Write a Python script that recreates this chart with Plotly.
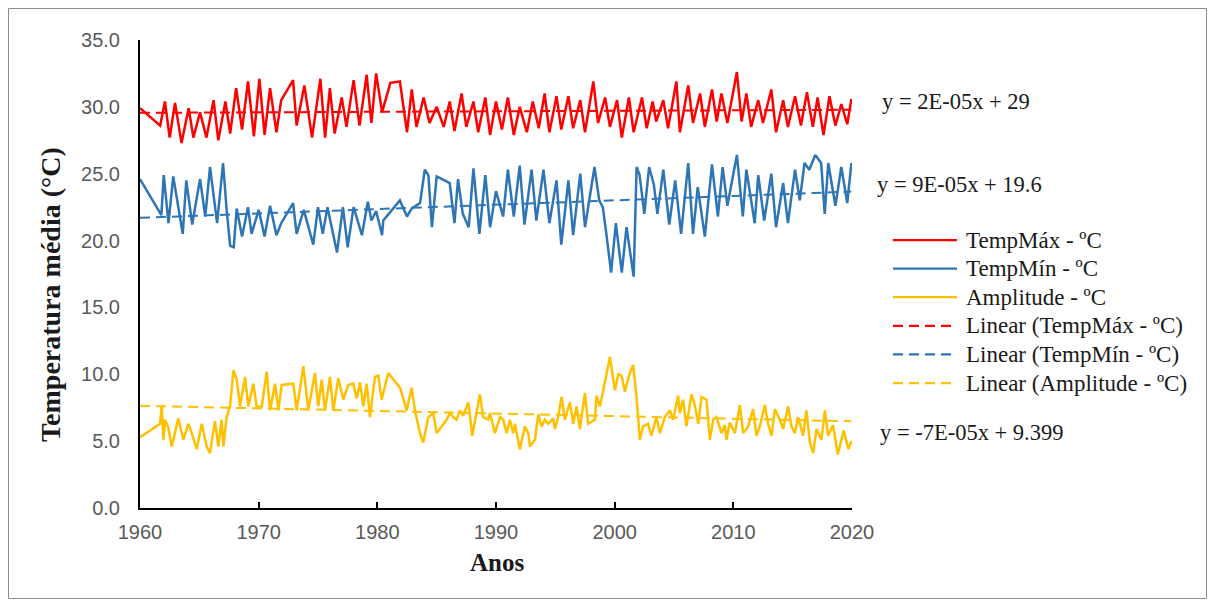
import numpy as np
import plotly.graph_objects as go

# ---------------- data (decimal years, °C) ----------------
tmax_x = [1960.0, 1961.7, 1962.1, 1962.5, 1962.95, 1963.5, 1964.1, 1964.5, 1965.06, 1965.6,
          1966.2, 1966.6, 1967.2, 1967.6, 1968.1, 1968.6, 1969.1, 1969.6, 1970.06, 1970.5,
          1970.96, 1971.5, 1971.9, 1972.9, 1973.2, 1973.85, 1974.5, 1975.2, 1975.6, 1976.0,
          1976.4, 1977.0, 1977.4, 1978.0, 1978.5, 1979.1, 1979.5, 1979.9, 1980.4, 1981.1,
          1981.9, 1982.5, 1982.9, 1983.3, 1983.9, 1984.4, 1985.0, 1985.6, 1986.1, 1986.5,
          1987.1, 1987.5, 1988.1, 1988.5, 1989.1, 1989.5, 1990.0, 1990.5, 1991.0, 1991.5,
          1992.0, 1992.6, 1993.1, 1993.6, 1994.1, 1994.5, 1995.1, 1995.5, 1996.1, 1996.5,
          1997.1, 1997.5, 1998.2, 1998.6, 1999.2, 1999.6, 2000.2, 2000.6, 2001.2, 2001.6,
          2002.3, 2002.7, 2003.2, 2003.5, 2004.1, 2004.5, 2005.2, 2005.5, 2006.2, 2006.6,
          2007.2, 2007.6, 2008.2, 2008.6, 2009.0, 2009.5, 2010.3, 2010.7, 2011.1, 2011.5,
          2012.1, 2012.5, 2013.2, 2013.6, 2014.2, 2014.6, 2015.2, 2015.7, 2016.2, 2016.7,
          2017.1, 2017.6, 2018.1, 2018.6, 2019.1, 2019.6, 2019.95]
tmax_y = [29.9, 28.6, 30.4, 27.7, 30.3, 27.3, 29.9, 27.7, 29.6, 27.7,
          30.5, 27.5, 30.4, 28.0, 31.4, 28.3, 31.9, 27.8, 32.1, 27.9,
          31.4, 28.1, 30.5, 32.0, 28.6, 31.6, 27.7, 32.1, 27.7, 31.4,
          28.0, 30.7, 28.5, 32.0, 28.6, 32.4, 28.8, 32.5, 29.6, 31.8,
          31.9, 28.1, 31.3, 28.5, 30.7, 28.8, 30.0, 28.5, 30.4, 28.2,
          31.0, 28.5, 30.4, 28.1, 30.7, 27.9, 30.4, 28.3, 30.7, 27.9,
          30.0, 28.1, 30.4, 28.4, 31.0, 28.1, 30.8, 28.3, 30.8, 28.4,
          30.5, 28.1, 31.9, 28.8, 30.7, 28.5, 30.5, 27.7, 30.7, 28.1,
          30.7, 28.4, 30.4, 28.9, 30.5, 28.4, 31.9, 28.1, 31.6, 28.8,
          31.0, 28.5, 31.3, 28.9, 31.0, 28.8, 32.6, 28.9, 31.0, 28.5,
          30.5, 28.8, 31.3, 28.1, 30.5, 28.5, 30.8, 28.6, 31.1, 28.5,
          30.7, 27.9, 30.8, 28.6, 30.2, 28.7, 30.6]

tmin_x = [1960.0, 1961.8, 1962.0, 1962.4, 1962.8, 1963.6, 1963.9, 1964.4, 1965.06, 1965.5,
          1965.9, 1966.5, 1967.0, 1967.3, 1967.6, 1967.9, 1968.15, 1968.6, 1969.1, 1969.4,
          1970.0, 1970.5, 1970.96, 1971.5, 1971.9, 1972.9, 1973.2, 1973.8, 1974.6, 1975.0,
          1975.4, 1975.8, 1976.6, 1977.1, 1977.5, 1978.0, 1978.7, 1979.2, 1979.5, 1979.9,
          1980.4, 1980.5, 1981.9, 1982.5, 1982.9, 1983.6, 1984.0, 1984.3, 1984.6, 1985.0,
          1986.1, 1986.5, 1986.8, 1987.2, 1987.7, 1988.1, 1988.6, 1989.1, 1989.5, 1990.0,
          1990.6, 1991.0, 1991.5, 1992.0, 1992.4, 1993.0, 1993.4, 1994.0, 1994.5, 1995.1,
          1995.5, 1996.1, 1996.5, 1997.1, 1997.5, 1998.3, 1998.7, 1999.0, 1999.3, 1999.7,
          2000.1, 2000.6, 2001.0, 2001.6, 2001.85, 2002.1, 2002.5, 2002.9, 2003.3, 2003.6,
          2004.1, 2004.6, 2005.1, 2005.6, 2006.2, 2006.6, 2007.0, 2007.6, 2008.2, 2008.7,
          2009.1, 2009.5, 2010.3, 2010.8, 2011.1, 2011.8, 2012.1, 2012.6, 2013.2, 2013.6,
          2014.2, 2014.6, 2015.2, 2015.6, 2016.0, 2016.4, 2016.9, 2017.4, 2017.7, 2018.0,
          2018.6, 2019.1, 2019.6, 2019.95]
tmin_y = [24.6, 21.9, 24.9, 21.3, 24.8, 20.5, 24.5, 21.2, 24.6, 21.8,
          25.5, 21.3, 25.8, 22.3, 19.6, 19.5, 22.4, 20.3, 22.5, 20.5,
          22.3, 20.3, 22.6, 20.4, 21.3, 22.8, 20.5, 22.3, 19.7, 22.5,
          20.5, 22.5, 19.1, 22.5, 19.5, 22.5, 20.4, 22.9, 21.5, 22.2,
          20.4, 21.5, 23.0, 21.8, 22.4, 22.8, 25.3, 24.9, 21.0, 24.8,
          24.3, 21.3, 24.6, 22.0, 21.0, 25.4, 20.5, 24.9, 21.0, 23.7,
          21.8, 25.3, 21.8, 25.6, 21.2, 25.3, 21.5, 25.3, 21.3, 24.5,
          19.7, 24.5, 20.4, 25.0, 21.0, 25.5, 23.0, 22.5, 20.5, 17.6,
          21.3, 17.6, 21.0, 17.3, 25.5, 24.9, 22.0, 25.5, 24.2, 22.0,
          25.3, 21.2, 24.5, 20.5, 25.8, 20.5, 24.0, 20.3, 25.7, 21.8,
          25.5, 22.6, 26.4, 21.8, 25.3, 21.3, 24.9, 21.5, 25.0, 21.0,
          24.3, 21.3, 25.3, 23.0, 25.8, 25.3, 26.4, 25.8, 22.0, 25.8,
          22.6, 25.5, 22.8, 25.8]

amp_x = [1960.0, 1961.69, 1961.83, 1961.97, 1962.11, 1962.39, 1962.67, 1963.23, 1963.65, 1964.08,
         1964.36, 1964.78, 1965.2, 1965.62, 1965.9, 1966.32, 1966.6, 1966.88, 1967.03, 1967.3,
         1967.59, 1967.87, 1968.15, 1968.43, 1968.85, 1969.13, 1969.55, 1969.83, 1970.26, 1970.68,
         1970.96, 1971.38, 1971.66, 1971.94, 1972.92, 1973.2, 1973.77, 1974.18, 1974.74, 1975.02,
         1975.31, 1975.59, 1976.01, 1976.29, 1976.71, 1977.13, 1977.55, 1977.97, 1978.26, 1978.54,
         1978.82, 1979.1, 1979.38, 1979.8, 1980.08, 1980.36, 1980.92, 1981.91, 1982.47, 1982.89,
         1983.17, 1983.59, 1983.87, 1984.3, 1984.72, 1985.0, 1985.42, 1985.84, 1986.12, 1986.4,
         1986.68, 1986.96, 1987.24, 1987.67, 1988.0, 1988.64, 1988.92, 1989.34, 1989.49, 1989.91,
         1990.33, 1990.61, 1990.89, 1991.17, 1991.45, 1991.59, 1992.01, 1992.43, 1992.72, 1992.86,
         1993.28, 1993.56, 1993.84, 1994.12, 1994.4, 1994.82, 1994.96, 1995.24, 1995.52, 1995.81,
         1996.23, 1996.51, 1996.79, 1997.07, 1997.49, 1997.77, 1998.33, 1998.47, 1998.76, 1999.04,
         1999.32, 1999.6, 2000.02, 2000.3, 2000.58, 2000.86, 2001.28, 2001.56, 2001.84, 2001.99,
         2002.13, 2002.4, 2002.82, 2003.1, 2003.52, 2003.81, 2004.23, 2004.65, 2004.93, 2005.35,
         2005.49, 2005.77, 2006.05, 2006.47, 2006.75, 2007.04, 2007.32, 2007.74, 2008.02, 2008.3,
         2008.58, 2009.0, 2009.28, 2009.42, 2009.7, 2010.13, 2010.55, 2010.83, 2011.25, 2011.67,
         2011.95, 2012.23, 2012.65, 2012.93, 2013.22, 2013.5, 2013.92, 2014.2, 2014.62, 2014.9,
         2015.18, 2015.46, 2015.88, 2016.16, 2016.45, 2016.73, 2017.01, 2017.43, 2017.71, 2017.99,
         2018.4, 2018.8, 2019.3, 2019.7, 2019.95]
amp_y = [5.3, 6.3, 7.7, 5.1, 6.6, 6.0, 4.6, 6.7, 5.1, 6.3,
         5.6, 4.4, 6.3, 4.6, 4.1, 6.5, 4.6, 6.6, 4.6, 6.8,
         7.6, 10.3, 9.6, 7.6, 9.8, 7.6, 9.3, 7.6, 7.6, 10.2,
         7.3, 9.3, 7.3, 9.2, 9.3, 7.3, 10.6, 7.3, 10.1, 7.6,
         9.6, 7.3, 9.8, 7.3, 9.7, 8.1, 9.2, 9.3, 8.2, 9.4,
         7.6, 9.3, 6.8, 9.8, 9.9, 8.1, 10.1, 9.0, 7.3, 9.0,
         7.3, 5.6, 4.9, 6.8, 7.1, 5.6, 6.1, 6.6, 7.1, 6.8,
         6.6, 7.3, 6.9, 7.9, 5.4, 8.5, 6.8, 6.6, 7.1, 5.6,
         6.8, 6.6, 5.6, 6.6, 5.6, 6.3, 4.4, 6.1, 5.6, 4.6,
         5.1, 7.0, 6.1, 6.6, 6.3, 6.7, 5.9, 6.8, 8.3, 6.6,
         7.9, 6.3, 7.6, 5.9, 8.6, 6.3, 6.6, 8.4, 7.6, 8.8,
         10.1, 11.3, 8.8, 10.0, 9.9, 8.7, 10.1, 10.7, 8.3, 6.6,
         5.1, 6.1, 6.3, 5.4, 6.8, 5.6, 6.8, 7.3, 6.6, 8.4,
         7.1, 8.1, 6.1, 8.5, 7.7, 6.3, 8.3, 8.1, 5.1, 6.6,
         6.8, 5.6, 6.2, 5.1, 6.4, 5.6, 7.7, 5.6, 6.1, 7.4,
         5.4, 6.1, 7.7, 6.3, 5.4, 7.4, 6.6, 5.9, 7.6, 6.1,
         5.6, 6.8, 5.4, 7.3, 4.9, 4.1, 5.9, 5.1, 7.3, 5.4,
         6.2, 4.0, 5.8, 4.4, 5.0]

year_ticks = [1960, 1970, 1980, 1990, 2000, 2010, 2020]
year_labels = ["1960", "1970", "1980", "1990", "2000", "2010", "2020"]

series_names = ["TempMáx - ºC", "TempMín - ºC", "Amplitude - ºC"]
trend_names = ["Linear (TempMáx - ºC)", "Linear (TempMín - ºC)", "Linear (Amplitude - ºC)"]
equations = ["y = 2E-05x + 29", "y = 9E-05x + 19.6", "y = -7E-05x + 9.399"]

colors = ["#FF0000", "#2E75B6", "#FFC000"]

# ---------------- geometry ----------------
OFF = 8                     # page body margin of the html page
W, H = 1199, 591            # figure size (fits in the 1215x607 window with the margin)
L, R, T, B = 140 - OFF, 852 - OFF, 40 - OFF, 508 - OFF   # plot area in figure px


def px_x(p):               # p: pixel x in the screenshot
    return ((p - OFF) - L) / (R - L)


def px_y(p):               # p: pixel y in the screenshot
    return (B - (p - OFF)) / (B - T)


fig = go.Figure()
data = [(tmax_x, tmax_y), (tmin_x, tmin_y), (amp_x, amp_y)]
for (xs, ys), name, col in zip(data, series_names, colors):
    fig.add_trace(go.Scatter(x=xs, y=ys, mode="lines", name=name, showlegend=False,
                             line=dict(color=col, width=2.5)))

for (xs, ys), name, col in zip(data, trend_names, colors):
    xa = np.array(xs)
    ya = np.array(ys)
    m, b = np.polyfit(xa, ya, 1)
    xe = np.array([xa.min(), xa.max()])
    fig.add_trace(go.Scatter(x=xe, y=m * xe + b, mode="lines", name=name, showlegend=False,
                             line=dict(color=col, width=2, dash="10px,6px")))

serif = "Liberation Serif, Times New Roman, serif"
sans = "Liberation Sans, Arial, sans-serif"

fig.update_layout(
    width=W, height=H,
    margin=dict(l=L, r=W - R, t=T, b=H - B),
    paper_bgcolor="white", plot_bgcolor="white",
    showlegend=False,
    xaxis=dict(range=[1960, 2020], tickmode="array", tickvals=year_ticks,
               ticktext=year_labels, showgrid=False, zeroline=False,
               showline=True, linecolor="black", linewidth=2,
               ticks="inside", ticklen=6, tickwidth=1.5, tickcolor="black",
               tickfont=dict(family=sans, size=20, color="#595959"),
               ticklabelstandoff=5),
    yaxis=dict(range=[0, 35], dtick=5, tickformat=".1f", showgrid=False,
               zeroline=False, showline=True, linecolor="black", linewidth=2,
               ticks="", tickfont=dict(family=sans, size=20, color="#595959"),
               ticklabelstandoff=14),
)

annotations = [
    dict(text="<b>Anos</b>", x=px_x(497), y=px_y(562), xref="paper", yref="paper",
         showarrow=False, xanchor="center", yanchor="middle",
         font=dict(family=serif, size=25, color="#1a1a1a")),
    dict(text="<b>Temperatura média (°C)</b>", x=px_x(50), y=px_y(295), xref="paper",
         yref="paper", showarrow=False, textangle=-90, xanchor="center", yanchor="middle",
         font=dict(family=serif, size=28, color="#1a1a1a")),
]
eq_pos = [(880, 102), (875, 184), (878, 432)]
for txt, (ex, ey) in zip(equations, eq_pos):
    annotations.append(dict(text=txt, x=px_x(ex), y=px_y(ey), xref="paper", yref="paper",
                            showarrow=False, xanchor="left", yanchor="middle",
                            font=dict(family=serif, size=22.5, color="#1a1a1a")))

# legend (drawn as key lines + real text)
shapes = []
legend_names = series_names + trend_names
legend_dash = ["solid"] * 3 + ["10px,6px"] * 3
legend_cols = colors + colors
for i, (nm, dsh, col) in enumerate(zip(legend_names, legend_dash, legend_cols)):
    yy = 240 + 28.6 * i
    shapes.append(dict(type="line", xref="paper", yref="paper",
                       x0=px_x(893), x1=px_x(957), y0=px_y(yy), y1=px_y(yy),
                       line=dict(color=col, width=2.25, dash=dsh)))
    annotations.append(dict(text=nm, x=px_x(964), y=px_y(yy), xref="paper", yref="paper",
                            showarrow=False, xanchor="left", yanchor="middle",
                            font=dict(family=serif, size=23, color="#1a1a1a")))

# outer chart border
shapes.append(dict(type="rect", xref="paper", yref="paper",
                   x0=px_x(8.5), x1=px_x(1206.5), y0=px_y(598.5), y1=px_y(8.5),
                   line=dict(color="#8c8c8c", width=1), fillcolor="rgba(0,0,0,0)",
                   layer="below"))

fig.update_layout(annotations=annotations, shapes=shapes)

fig.write_html("out.html")
